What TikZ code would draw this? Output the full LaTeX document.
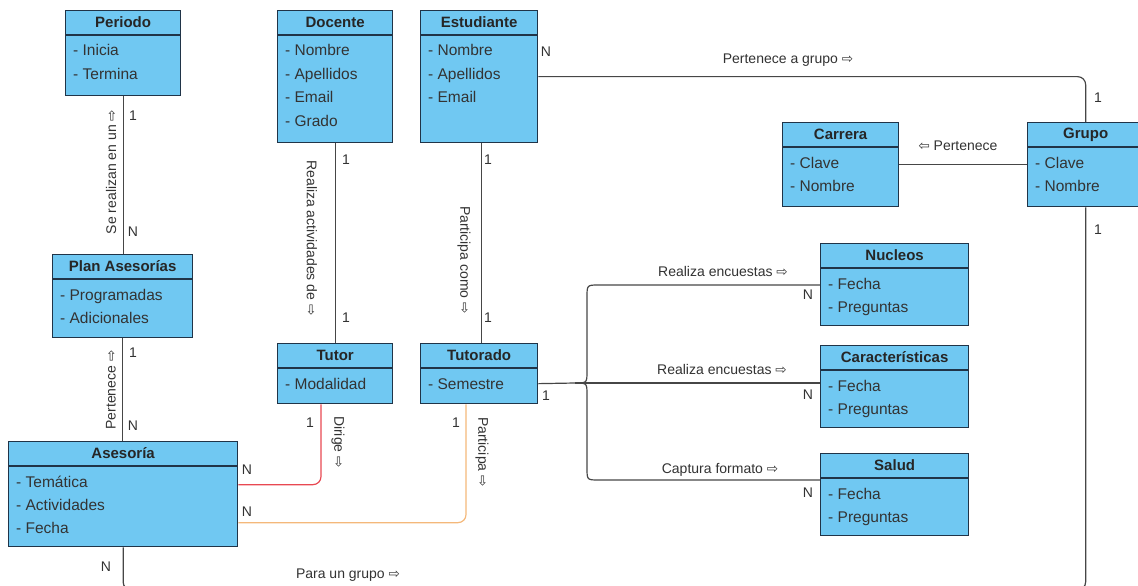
\documentclass[tikz,border=0pt]{standalone}
\usepackage{fontspec}
\setmainfont{Liberation Sans}
\newfontfamily\symfont{DejaVu Sans}
\usetikzlibrary{calc}

\definecolor{entfill}{RGB}{112,200,242}
\definecolor{entdraw}{RGB}{32,52,72}
\definecolor{connline}{RGB}{70,70,70}
\definecolor{lbltext}{RGB}{50,50,50}
\definecolor{dirline}{RGB}{232,72,82}
\definecolor{partline}{RGB}{244,184,122}

\newcommand{\rarr}{{\symfont\fontsize{13.5}{13.5}\selectfont ⇨}}
\newcommand{\larr}{{\symfont\fontsize{13.5}{13.5}\selectfont ⇦}}

\tikzset{
  entbox/.style={draw=entdraw, line width=1.3pt, fill=entfill, rectangle, inner sep=0pt},
  entsep/.style={draw=entdraw, line width=1.3pt},
  enttitle/.style={font=\bfseries\fontsize{15}{15}\selectfont, text=black!85, inner sep=0pt},
  entattr/.style={font=\fontsize{15.5}{15.5}\selectfont, text=black!80, anchor=base west, inner sep=0pt},
  conn/.style={draw=connline, line width=1.2pt, rounded corners=8pt},
  lbl/.style={font=\fontsize{14}{14}\selectfont, text=lbltext, inner sep=0pt},
}

% entity box: name, north-west corner, width, height, title, attributes
\newcommand{\entity}[6]{%
  \node[entbox, minimum width=#3pt, minimum height=#4pt, anchor=north west] (#1) at #2 {};
  \draw[entsep] ([yshift=-25pt]#1.north west) -- ([yshift=-25pt]#1.north east);
  \node[enttitle] (#1-title) at ([yshift=-12.5pt]#1.north) {#5};
  \foreach \a [count=\i] in {#6} {
    \node[entattr] (#1-attr\i) at ([xshift=8pt,yshift={-46pt-23.4pt*(\i-1)}]#1.north west) {- \a};
  }%
}

\begin{document}
\begin{tikzpicture}[x=1pt,y=-1pt]
\useasboundingbox (0,0) rectangle (1138,586);

% entities
\entity{periodo}{(65,10)}{115}{85}{Periodo}{Inicia,Termina}
\entity{docente}{(277,10)}{115}{132}{Docente}{Nombre,Apellidos,Email,Grado}
\entity{estudiante}{(420,10)}{117}{132}{Estudiante}{Nombre,Apellidos,Email}
\entity{carrera}{(782,122)}{116}{84}{Carrera}{Clave,Nombre}
\entity{grupo}{(1027,122)}{116}{84}{Grupo}{Clave,Nombre}
\entity{plan}{(52,254)}{140}{83}{Plan Asesorías}{Programadas,Adicionales}
\entity{asesoria}{(8,441)}{229}{105}{Asesoría}{Temática,Actividades,Fecha}
\entity{tutor}{(277,343)}{115}{60}{Tutor}{Modalidad}
\entity{tutorado}{(420,343)}{117}{60}{Tutorado}{Semestre}
\entity{nucleos}{(820,243)}{148}{82}{Nucleos}{Fecha,Preguntas}
\entity{caract}{(820,345)}{148}{82}{Características}{Fecha,Preguntas}
\entity{salud}{(820,453)}{148}{82}{Salud}{Fecha,Preguntas}

% helper coordinates for routed connectors
\coordinate (gbase) at (0,590);
\coordinate (fork) at (575,383);

% Periodo -- Plan Asesorias
\draw[conn] (periodo.south) -- (periodo.south |- plan.north);
\node[lbl] (p1) at (133,116) {1};
\node[lbl] (pn) at (133,232) {N};
\node[lbl, rotate=90] (plbl) at (111,172) {Se realizan en un \rarr};

% Plan Asesorias -- Asesoria
\draw[conn] (plan.south) -- (plan.south |- asesoria.north);
\node[lbl] (a1) at (133,353) {1};
\node[lbl] (an) at (133,426) {N};
\node[lbl, rotate=90] (albl) at (111,390) {Pertenece \rarr};

% Docente -- Tutor
\draw[conn] (docente.south) -- (docente.south |- tutor.north);
\node[lbl] (d1) at (346,160) {1};
\node[lbl] (d2) at (346,318) {1};
\node[lbl, rotate=-90] (dlbl) at (312,238) {Realiza actividades de \rarr};

% Estudiante -- Tutorado
\draw[conn] ([xshift=2pt]estudiante.south) -- ([xshift=2pt]estudiante.south |- tutorado.north);
\node[lbl] (e1) at (488,160) {1};
\node[lbl] (e2) at (488,318) {1};
\node[lbl, rotate=-90] (elbl) at (464,260) {Participa como \rarr};

% Estudiante -- Grupo
\draw[conn] (estudiante.east) -| (grupo.north);
\node[lbl] (gn) at (546,52) {N};
\node[lbl] (glbl) at (788,60) {Pertenece a grupo \rarr};
\node[lbl] (g1) at (1098,98) {1};

% Carrera -- Grupo
\draw[conn] (carrera.east) -- (carrera.east -| grupo.west);
\node[lbl] (clbl) at (958,146) {\larr\ Pertenece};

% Grupo -- Asesoria
\draw[conn] (grupo.south) -- (grupo.south |- gbase) -- (asesoria.south |- gbase) -- (asesoria.south);
\node[lbl] (b1) at (1098,230) {1};
\node[lbl] (bn) at (106,567) {N};
\node[lbl] (blbl) at (348,575) {Para un grupo \rarr};

% Tutor -- Asesoria
\draw[conn, draw=dirline] ([xshift=44pt]tutor.south west) |- ([yshift=9.5pt]asesoria.east);
\node[lbl] (t1) at (310,423) {1};
\node[lbl] (tn) at (247,470) {N};
\node[lbl, rotate=-90] (tlbl) at (338,442) {Dirige \rarr};

% Tutorado -- Asesoria
\draw[conn, draw=partline] ([xshift=46pt]tutorado.south west) |- ([yshift=-28.5pt]asesoria.east);
\node[lbl] (u1) at (456,423) {1};
\node[lbl] (un) at (247,512) {N};
\node[lbl, rotate=-90] (ulbl) at (482,452) {Participa \rarr};

% Tutorado -- surveys
\draw[conn, rounded corners=0pt] ([yshift=-10pt]tutorado.east) -- (fork);
\draw[conn, rounded corners=0pt] (fork) -- (fork -| caract.west);
\draw[conn, rounded corners=0pt] (fork) .. controls (587,383) .. (587,371) -- (587,297)
  .. controls (587,285) .. (599,285) -- (599,285 -| nucleos.west);
\draw[conn, rounded corners=0pt] (fork) .. controls (587,383) .. (587,395) -- (587,468)
  .. controls (587,480) .. (599,480) -- (599,480 -| salud.west);
\node[lbl] (s1) at (546,396) {1};
\node[lbl] (n1lbl) at (723,271) {Realiza encuestas \rarr};
\node[lbl] (n1n) at (808,295) {N};
\node[lbl] (n2lbl) at (722,369) {Realiza encuestas \rarr};
\node[lbl] (n2n) at (808,395) {N};
\node[lbl] (n3lbl) at (720,470) {Captura formato \rarr};
\node[lbl] (n3n) at (808,493) {N};

\end{tikzpicture}
\end{document}
